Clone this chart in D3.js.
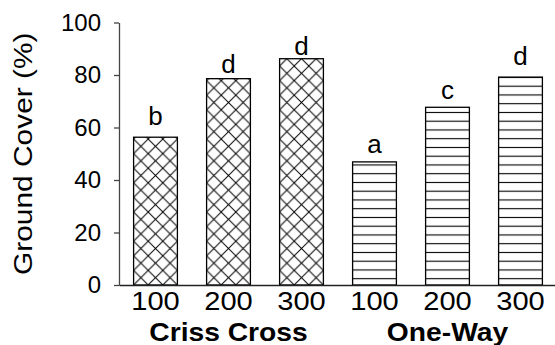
<!DOCTYPE html>
<html>
<head>
<meta charset="utf-8">
<script src="https://cdn.jsdelivr.net/npm/d3@7"></script>
<style>
  body { margin: 0; background: #fff; }
  text { font-family: "Liberation Sans", Arial, sans-serif; fill: #000; }
</style>
</head>
<body>
<div id="chart"></div>
<script>
// data
const methods = ["Criss Cross", "Criss Cross", "Criss Cross", "One-Way", "One-Way", "One-Way"];
const rates = ["100", "200", "300", "100", "200", "300"];
const groundCover = [56.3, 78.6, 86.2, 46.9, 67.7, 79.2];
const letters = ["b", "d", "d", "a", "c", "d"];
const letterAt = [61, 80.6, 87.6, 50.3, 70.9, 83.8];   // where the letters sit, in % units
const yTicks = [0, 20, 40, 60, 80, 100];
const groupNames = ["Criss Cross", "One-Way"];

const W = 555, H = 345;
const plot = {left: 119, right: 557, top: 22.5, bottom: 285};

const svg = d3.select("#chart").append("svg")
    .attr("width", W)
    .attr("height", H);

const ids = groundCover.map((d, i) => i);

const x = d3.scaleBand()
    .domain(ids)
    .range([plot.left, plot.right])
    .paddingInner(0.4)
    .paddingOuter(0.2);

const y = d3.scaleLinear()
    .domain([0, 100])
    .range([plot.bottom, plot.top]);

// hatch patterns
const defs = svg.append("defs");
const cell = x.step() / 5;
defs.append("pattern")
    .attr("id", "cross")
    .attr("patternUnits", "userSpaceOnUse")
    .attr("x", x(0))
    .attr("y", y(0))
    .attr("width", cell)
    .attr("height", cell)
    .append("path")
    .attr("d", `M0,0L${cell},${cell}M${cell},0L0,${cell}`)
    .attr("stroke", "#000")
    .attr("stroke-width", 1)
    .attr("fill", "none");

const gap = 8.75;
const hp = defs.append("pattern")
    .attr("id", "lines")
    .attr("patternUnits", "userSpaceOnUse")
    .attr("x", 0)
    .attr("y", y(0))
    .attr("width", 10)
    .attr("height", gap);
hp.append("rect").attr("width", 10).attr("height", gap).attr("fill", "#fff");
hp.append("line")
    .attr("x1", 0).attr("x2", 10)
    .attr("y1", 2.45).attr("y2", 2.45)
    .attr("stroke", "#000")
    .attr("stroke-width", 1.1);

// bars
svg.append("g")
    .selectAll("rect")
    .data(ids)
    .join("rect")
    .attr("x", i => x(i))
    .attr("y", i => y(groundCover[i]))
    .attr("width", x.bandwidth())
    .attr("height", i => y(0) - y(groundCover[i]))
    .attr("fill", i => methods[i] === "Criss Cross" ? "url(#cross)" : "url(#lines)")
    .attr("stroke", "#000")
    .attr("stroke-width", 1.3);

// letters
svg.append("g")
    .selectAll("text")
    .data(ids)
    .join("text")
    .attr("x", i => x(i) + x.bandwidth() / 2)
    .attr("y", i => y(letterAt[i]))
    .attr("text-anchor", "middle")
    .attr("font-size", 26)
    .text(i => letters[i]);

// y axis
const yAxis = svg.append("g")
    .attr("transform", `translate(${plot.left},0)`)
    .call(d3.axisLeft(y).tickValues(yTicks).tickSize(5).tickSizeOuter(0).tickPadding(13));
yAxis.select(".domain").attr("stroke", "#444").attr("stroke-width", 1.3);
yAxis.selectAll(".tick line").attr("stroke", "#444").attr("stroke-width", 1.3);
yAxis.selectAll(".tick text")
    .attr("font-size", 24)
    .attr("font-family", null)
    .attr("fill", "#000");

// x axis
const xAxis = svg.append("g")
    .attr("transform", `translate(0,${plot.bottom})`)
    .call(d3.axisBottom(x).tickFormat(i => rates[i]).tickSize(0).tickSizeOuter(0).tickPadding(7));
xAxis.select(".domain").attr("stroke", "#222").attr("stroke-width", 1.3);
xAxis.selectAll(".tick text")
    .attr("font-size", 26)
    .attr("font-family", null)
    .attr("fill", "#000")
    .attr("transform", "scale(1.12,1)");

// group labels
svg.append("g")
    .selectAll("text")
    .data(groupNames)
    .join("text")
    .attr("transform", g => {
        const idx = ids.filter(i => methods[i] === g);
        const cx = (x(idx[0]) + x(idx[idx.length - 1]) + x.bandwidth()) / 2;
        return `translate(${cx},340.5) scale(1.13,1)`;
    })
    .attr("text-anchor", "middle")
    .attr("font-size", 25)
    .attr("font-weight", "bold")
    .text(g => g);

// y title
svg.append("text")
    .attr("transform", `translate(32,${(plot.top + plot.bottom) / 2}) rotate(-90) scale(1.15,1)`)
    .attr("text-anchor", "middle")
    .attr("font-size", 26)
    .text("Ground Cover (%)");
</script>
</body>
</html>
